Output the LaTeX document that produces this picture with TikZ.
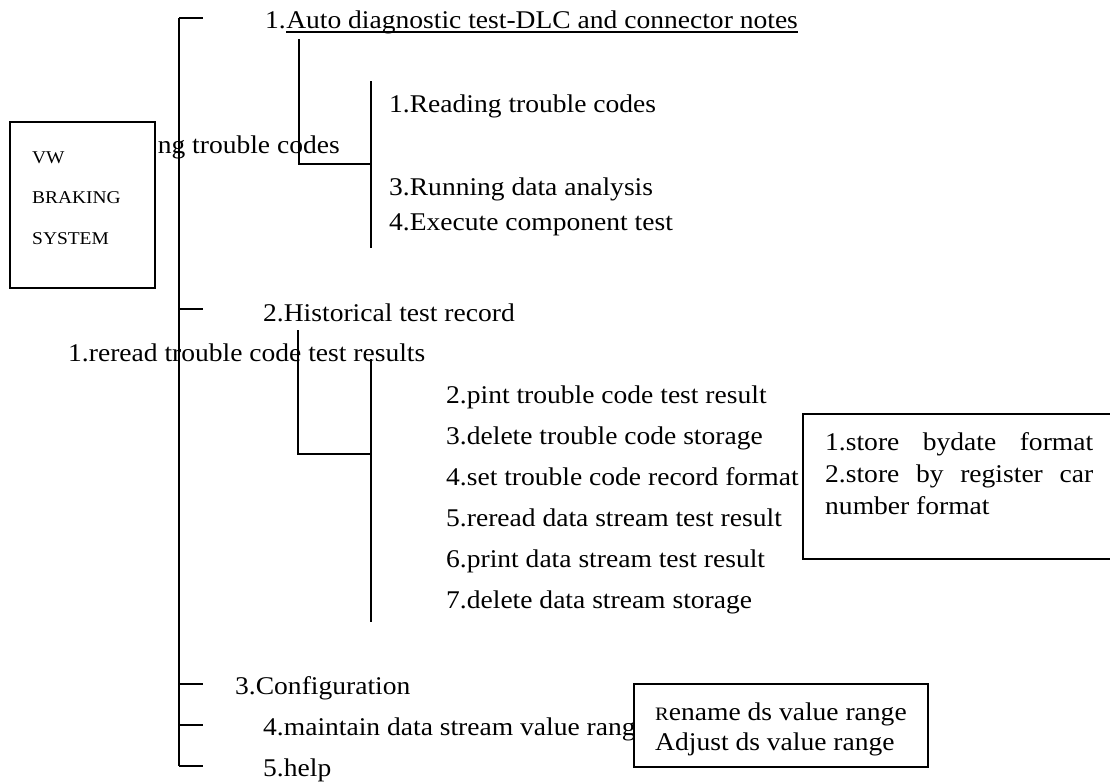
\documentclass[tikz,border=0pt]{standalone}
\usepackage{fontspec}
\setmainfont{Liberation Serif}[FakeStretch=1.08]
\usetikzlibrary{positioning}
\tikzset{%
	menu item/.style={
		anchor=base west,
		inner sep=0pt,
		font=\fontsize{25.5}{32}\selectfont
	},
	tree line/.style={line width=1.6pt},
	note box/.style={draw, line width=1.8pt, fill=white},
}
\begin{document}
\begin{tikzpicture}[x=1pt, y=-1pt]
	\useasboundingbox (0,0) rectangle (1110,782);
	\clip (0,0) rectangle (1110,782);
	
	% Menu entries
	\node[menu item] (auto) at (265,28) {1.};
	\node[menu item] (autotext) at (auto.base east) {Auto diagnostic test-DLC and connector notes};
	\node[menu item] (read) at (389,112) {1.Reading trouble codes};
	\node[menu item, anchor=base east] (clear) at (340,153) {ng trouble codes};
	\node[menu item] (run) at (389,195) {3.Running data analysis};
	\node[menu item] (exec) at (389,230) {4.Execute component test};
	\node[menu item] (hist) at (263,321) {2.Historical test record};
	\node[menu item] (reread) at (68,361) {1.reread trouble code test results};
	\node[menu item] (pint) at (446,403) {2.pint trouble code test result};
	\node[menu item] (deltc) at (446,444) {3.delete trouble code storage};
	\node[menu item] (setfmt) at (446,485) {4.set trouble code record format};
	\node[menu item] (rrds) at (446,526) {5.reread data stream test result};
	\node[menu item] (prds) at (446,567) {6.print data stream test result};
	\node[menu item] (delds) at (446,608) {7.delete data stream storage};
	\node[menu item] (config) at (235,694) {3.Configuration};
	\node[menu item] (maint) at (263,735) {4.maintain data stream value range};
	\node[menu item] (help) at (263,776) {5.help};
	
	\draw[line width=1.3pt] ([yshift=-4pt]autotext.base west) -- ([yshift=-4pt]autotext.base east);
	
	% Main trunk
	\coordinate (trunk top) at (179,18);
	\coordinate (trunk bottom) at (179,766);
	\foreach \y [count=\i] in {18,309,684,725,766}
		\coordinate (tick\i) at (203,\y);
	\draw[tree line] (trunk top) -- (trunk bottom);
	\foreach \i in {1,...,5}
		\draw[tree line] (tick\i -| trunk top) -- (tick\i);
	
	% Brackets
	\coordinate (b1 top) at (299,39);
	\coordinate (b1 corner) at (299,164);
	\coordinate (b1 list top) at (371,81);
	\coordinate (b1 list bottom) at (371,248);
	\draw[tree line] (b1 top) -- (b1 corner) -- (b1 corner -| b1 list top);
	\draw[tree line] (b1 list top) -- (b1 list bottom);
	
	\coordinate (b2 top) at (298,330);
	\coordinate (b2 corner) at (298,454);
	\coordinate (b2 list top) at (371,359);
	\coordinate (b2 list bottom) at (371,622);
	\draw[tree line] (b2 top) -- (b2 corner) -- (b2 corner -| b2 list top);
	\draw[tree line] (b2 list top) -- (b2 list bottom);
	
	% Boxes
	\draw[note box] (10,122) rectangle (155,288);
	\node[menu item, font=\fontsize{18}{20}\selectfont] (vw) at (32,163) {VW};
	\node[menu item, font=\fontsize{18}{20}\selectfont] (braking) at (32,203) {BRAKING};
	\node[menu item, font=\fontsize{18}{20}\selectfont] (system) at (32,244) {SYSTEM};
	
	\draw[note box] (803,414) rectangle (1116,559);
	\node[menu item, text width=268pt, align=justify] (fmt) at (825,450)
		{\tolerance=10000 1.store bydate format 2.store by register car number format};
	
	\draw[note box] (634,684) rectangle (928,767);
	\node[menu item] (rename) at (655,720) {{\fontsize{19}{20}\selectfont R}ename ds value range};
	\node[menu item] (adjust) at (655,750) {Adjust ds value range};
	
\end{tikzpicture}
\end{document}
